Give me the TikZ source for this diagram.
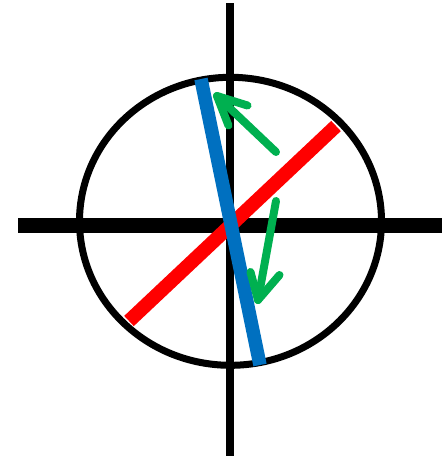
\documentclass[tikz,border=0pt]{standalone}
\definecolor{arrgreen}{HTML}{00B050}
\definecolor{lineblue}{HTML}{0070C0}
\definecolor{linered}{HTML}{FF0000}
\tikzset{
  axisline/.style={draw=black, line cap=butt},
  ring/.style={draw=black, line width=7pt},
  redbar/.style={draw=linered, line width=14pt, line cap=butt},
  bluebar/.style={draw=lineblue, line width=13.5pt, line cap=butt},
  greenarrow/.style={draw=arrgreen, line width=8pt, line cap=round, line join=round},
}
\begin{document}
\begin{tikzpicture}[x=1pt,y=-1pt]
\useasboundingbox (0,0) rectangle (446,459);
% named coordinates
\coordinate (vt) at (229.7,3);
\coordinate (vb) at (229.7,456);
\coordinate (hl) at (18,225.5);
\coordinate (hr) at (441.5,225.5);
\coordinate (c) at (230.5,221.3);
\coordinate (r1) at (129,321);
\coordinate (r2) at (336,126);
\coordinate (b1) at (201,79);
\coordinate (b2) at (260,365);
\coordinate (g1t) at (276,152);
\coordinate (g1h) at (217,96);
\coordinate (g1a) at (247.5,105.5);
\coordinate (g1b) at (228.5,125.5);
\coordinate (g2t) at (276,201);
\coordinate (g2h) at (258,300);
\coordinate (g2a) at (250.5,272);
\coordinate (g2b) at (279.5,275);
% axes
\draw[axisline, line width=8pt] (vt) -- (vb);
\draw[axisline, line width=15pt] (hl) -- (hr);
% red bar
\draw[redbar] (r1) -- (r2);
% circle
\draw[ring] (c) ellipse [x radius=151, y radius=144];
% blue bar
\draw[bluebar] (b1) -- (b2);
% green arrows
\draw[greenarrow] (g1t) -- (g1h);
\draw[greenarrow] (g1a) -- (g1h) -- (g1b);
\draw[greenarrow] (g2t) -- (g2h);
\draw[greenarrow] (g2a) -- (g2h) -- (g2b);
\end{tikzpicture}
\end{document}
